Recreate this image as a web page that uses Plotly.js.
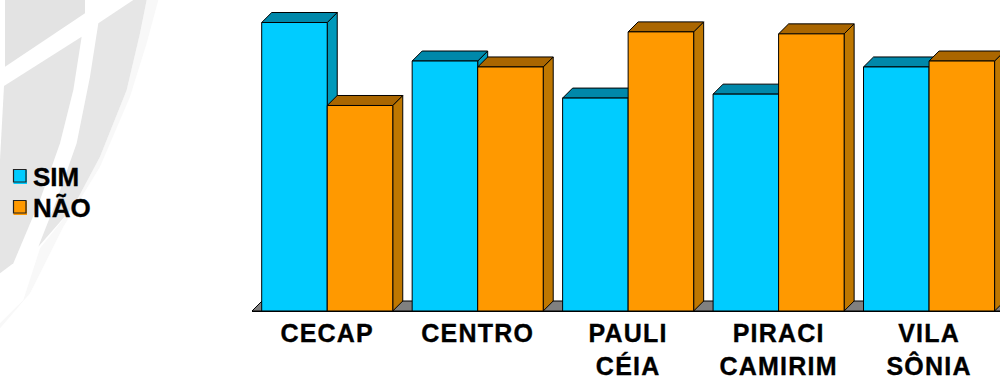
<!DOCTYPE html>
<html><head><meta charset="utf-8">
<script src="https://cdn.plot.ly/plotly-3.0.1.min.js"></script>
<style>html,body{margin:0;padding:0;background:#fff}#c{width:1000px;height:376px}
.xtick text{letter-spacing:1.2px;stroke:#000;stroke-width:.35px}
.annotation-text{stroke:#000;stroke-width:.35px}</style>
</head><body><div id="c"></div>
<script>
const categories = ["CECAP","CENTRO","PAULI<br>CÉIA","PIRACI<br>CAMIRIM","VILA<br>SÔNIA"];
const simValues = [58.4,50.6,43.1,43.9,49.4];
const naoValues = [41.6,49.4,56.5,56.1,50.6];
const seriesNames = ["SIM","NÃO"];
const frontColors = ["#00ccff","#ff9900"];
const topColors = ["#0088aa","#aa6600"];
const sideColors = ["#0099bb","#bf7700"];

const W=1000,H=376,L=252,B=65;
const xEnd=4.4715, yEnd=62.955;
const dx=10/150.4, dy=10/4.94, barW=(1-0.129)/2;
const px=x=>(x-L)/(W-L), py=y=>(H-B-y)/(H-B);
const shapes=[];
const poly=(pts,fill,lw=1,ref='x',yref='y',color='#000')=>shapes.push({type:'path',layer:'below',xref:ref,yref:yref,
  path:'M'+pts.map(p=>p[0]+','+p[1]).join('L')+'Z',fillcolor:fill,line:{color:color,width:lw}});
const paperPoly=(pts,fill)=>poly(pts.map(p=>[px(p[0]/3),py(p[1]/3)]),fill,0,'paper','paper',fill);

// watermark
paperPoly([[0,970],[70,900],[120,745],[220,620],[300,470],[380,270],[420,100],[440,0],[475,0],[440,130],[390,290],[300,500],[190,680],[90,880],[0,985]],'#f8f8f8');
paperPoly([[15,0],[255,0],[255,40],[15,200]],'#e3e3e3');
paperPoly([[12,258],[245,110],[220,270],[180,430],[120,600],[40,790],[0,820],[0,480]],'#e5e5e5');
paperPoly([[295,70],[400,0],[440,0],[420,100],[380,270],[300,470],[220,620],[115,740],[170,600],[230,430],[270,230]],'#e6e6e6');

// floor
poly([[-0.5,0],[-0.5+dx,dy],[xEnd+1,dy],[xEnd+1,0]],'#808080');

// 3-D faces
[simValues,naoValues].forEach((vals,s)=>{
  vals.forEach((v,i)=>{
    const x0=i-barW+s*barW, x1=x0+barW;
    poly([[x1,0],[x1+dx,dy],[x1+dx,v+dy],[x1,v]],sideColors[s]);
    poly([[x0,v],[x0+dx,v+dy],[x1+dx,v+dy],[x1,v]],topColors[s]);
  });
});

// legend
const annotations=[];
seriesNames.forEach((n,s)=>{
  const yc=[177,208][s];
  poly([[px(13.5),py(yc-7)],[px(27),py(yc-7)],[px(27),py(yc+7)],[px(13.5),py(yc+7)]],frontColors[s],0,'paper','paper',frontColors[s]);
  poly([[px(13.5),py(yc-7.5)],[px(26),py(yc-7.5)],[px(26),py(yc+5)],[px(13.5),py(yc+5)]],frontColors[s],1.2,'paper','paper','#222');
  annotations.push({xref:'paper',yref:'paper',x:px(31.5),y:py(yc),xanchor:'left',yanchor:'middle',showarrow:false,
    text:'<b>'+n+'</b>',font:{family:'"Liberation Sans",Arial,sans-serif',size:26,color:'#000'},borderpad:0});
});

const bar=(name,y,c)=>({type:'bar',name:name,x:[0,1,2,3,4],y:y,marker:{color:c,line:{color:'#000',width:1}},showlegend:false,hoverinfo:'x+y'});
Plotly.newPlot('c',[bar(seriesNames[0],simValues,frontColors[0]),bar(seriesNames[1],naoValues,frontColors[1])],{
  width:W,height:H,barmode:'group',bargap:0.129,bargroupgap:0,
  margin:{l:L,r:0,t:0,b:B,pad:0},paper_bgcolor:'#fff',plot_bgcolor:'rgba(0,0,0,0)',
  xaxis:{range:[-0.5,xEnd],tickmode:'array',tickvals:[0,1,2,3,4],ticktext:categories.map(c=>'<b>'+c.replace('<br>','</b><br><b>')+'</b>'),
    tickfont:{family:'"Liberation Sans",Arial,sans-serif',size:25,color:'#000'},ticks:'',showgrid:false,zeroline:false,showline:true,linecolor:'#000',linewidth:1},
  yaxis:{range:[0,yEnd],visible:false,showgrid:false,zeroline:false},
  shapes:shapes,annotations:annotations,showlegend:false
},{displayModeBar:false,staticPlot:true});
</script></body></html>
